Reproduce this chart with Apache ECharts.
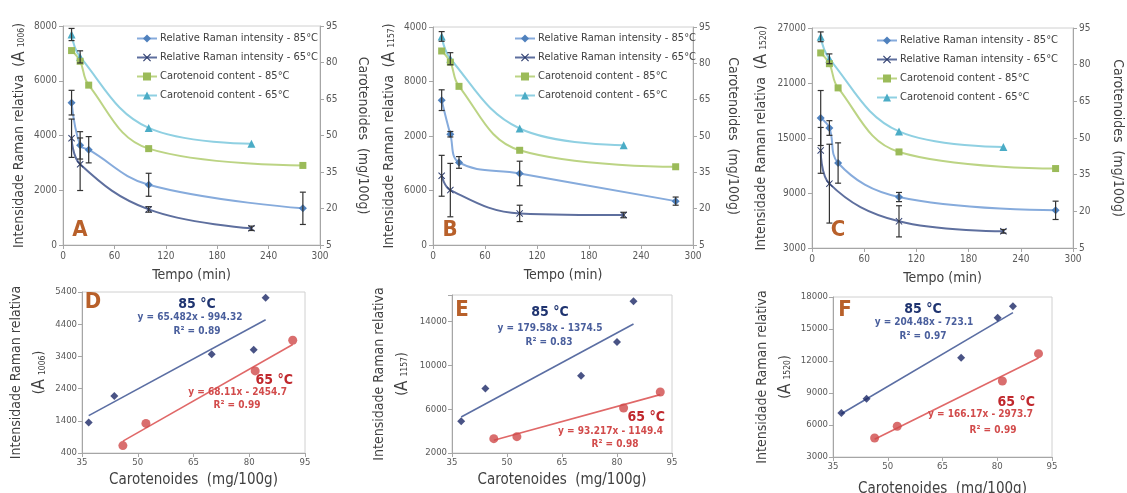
<!DOCTYPE html>
<html><head><meta charset="utf-8">
<script src="https://cdn.jsdelivr.net/npm/echarts@6/dist/echarts.min.js"></script>
<style>html,body{margin:0;padding:0;background:#fff}#c{width:1127px;height:493px}</style>
</head><body><div id="c"></div>
<script>
// ---------- DATA ----------
const tempo85 = [10, 20, 30, 100, 280];
const tempo65 = [10, 20, 100, 220];

// Panel A (A1006)
const ramanA85 = [5200, 3640, 3480, 2200, 1340];
const errA85   = [450, 500, 480, 420, 590];
const ramanA65 = [3900, 2950, 1300, 610];
const errA65   = [700, 960, 100, 80];
const carotA85 = [84.9, 80.5, 70.7, 44.6, 37.7];
const carotA65 = [91.5, 82.3, 53.1, 46.6];
const carotErrA65 = [2.5, 2.5, 0, 0];

// Panel B (A1157) – tick labels as printed, bottom to top
const ticksB = ['0', '6000', '2000', '8000', '4000'];
const ramanB85 = [10630, 8130, 6060, 5250, 3220];
const errB85   = [760, 200, 430, 900, 300];
const ramanB65 = [5080, 4030, 2320, 2200];
const errB65   = [1500, 1960, 600, 200];
const carotB85 = [85.1, 80.5, 70.5, 44.1, 37.3];
const carotB65 = [91.1, 81.9, 53.1, 46.2];
const carotErrB65 = [2, 2.5, 0, 0];

// Panel C (A1520)
const ramanC85 = [17180, 16090, 12270, 8560, 7110];
const errC85   = [3000, 800, 2200, 500, 1000];
const ramanC65 = [13650, 10020, 5910, 4820];
const errC65   = [2500, 4300, 1700, 200];
const carotC85 = [84.8, 80.4, 70.5, 44.3, 37.5];
const carotC65 = [91.4, 82.4, 52.7, 46.3];
const carotErrC65 = [2, 2, 0, 0];

// Panel D
const carot85D = [36.8, 43.7, 69.9, 81.2, 84.4];
const raman85D = [1350, 2170, 3470, 3610, 5220];
const carot65D = [46.0, 52.2, 81.6, 91.7];
const raman65D = [630, 1320, 2950, 3900];
const trend85D = [[36.8, 1560], [84.4, 4540]];
const trend65D = [[46.0, 770], [91.7, 3770]];
// Panel E
const carot85E = [37.5, 44.1, 70.2, 80.0, 84.5];
const raman85E = [4890, 7870, 9050, 12120, 15830];
const carot65E = [46.4, 52.7, 81.8, 91.8];
const raman65E = [3310, 3490, 6100, 7560];
const trend85E = [[37.5, 5280], [84.5, 13760]];
const trend65E = [[46.4, 3160], [91.8, 7320]];
// Panel F
const carot85F = [37.3, 44.2, 70.1, 80.1, 84.3];
const raman85F = [7130, 8470, 12310, 16060, 17130];
const carot65F = [46.4, 52.6, 81.4, 91.3];
const raman65F = [4780, 5880, 10130, 12690];
const trend85F = [[37.3, 7060], [84.3, 16530]];
const trend65F = [[46.4, 4660], [91.3, 12280]];

const legendNames = ['Relative Raman intensity - 85°C', 'Relative Raman intensity - 65°C',
  'Carotenoid content - 85°C', 'Carotenoid content - 65°C'];
const equations = {
  D: ['y = 65.482x - 994.32', 'R² = 0.89', 'y = 68.11x - 2454.7', 'R² = 0.99'],
  E: ['y = 179.58x - 1374.5', 'R² = 0.83', 'y = 93.217x - 1149.4', 'R² = 0.98'],
  F: ['y = 204.48x - 723.1', 'R² = 0.97', 'y = 166.17x - 2973.7', 'R² = 0.99']
};

// ---------- STYLE ----------
const FONT = "'Liberation Sans Narrow','DejaVu Sans Condensed','Open Sans',sans-serif";
const TXT = '#404040', TICK = '#595959', AXIS = '#a6a6a6';
const C85 = '#4f81bd', L85 = '#86abdc';
const C65 = '#2e3d6e', L65 = '#5e6f9e';
const CG = '#9bbb59', LG = '#bcd484';
const CC = '#4bacc6', LC = '#8fd0e2';
const LETTER = '#b8602a';
const XSYM = 'path://M0,1L1,0L5,4L9,0L10,1L6,5L10,9L9,10L5,6L1,10L0,9L4,5Z';

const zip = (a, b) => a.map((v, i) => [v, b[i]]);
const errData = (t, v, e) => t.map((x, i) => [x, v[i] - e[i], v[i] + e[i], e[i]]).filter(d => d[3] > 0);

function errRender(params, api) {
  const x = api.value(0), lo = api.value(1), hi = api.value(2);
  const a = api.coord([x, hi]), b = api.coord([x, lo]);
  const w = 3, style = { stroke: '#333', lineWidth: 1.2 };
  return { type: 'group', children: [
    { type: 'line', shape: { x1: a[0], y1: a[1], x2: b[0], y2: b[1] }, style },
    { type: 'line', shape: { x1: a[0] - w, y1: a[1], x2: a[0] + w, y2: a[1] }, style },
    { type: 'line', shape: { x1: b[0] - w, y1: b[1], x2: b[0] + w, y2: b[1] }, style }
  ]};
}

const grids = [
  { left: 63, top: 26, width: 257, height: 219 },
  { left: 433, top: 27, width: 260, height: 218 },
  { left: 812, top: 28, width: 261, height: 220 },
  { left: 82, top: 292, width: 223, height: 161 },
  { left: 452, top: 295, width: 220, height: 158 },
  { left: 833, top: 297, width: 219, height: 160 }
].map(g => Object.assign({ show: true, borderColor: '#d0d0d0', borderWidth: 1, backgroundColor: 'transparent',
  outerBoundsMode: 'none', containLabel: false }, g));

const plain = v => String(v);
function mk(o) {
  const base = {
    axisLine: { show: true, lineStyle: { color: AXIS } },
    axisTick: { show: true, length: 4, inside: false, lineStyle: { color: AXIS } },
    splitLine: { show: false },
    axisLabel: { color: TICK, fontSize: 10, fontFamily: FONT, margin: 6, formatter: plain },
    nameTextStyle: { color: TXT, fontFamily: FONT, fontSize: 14 },
    nameLocation: 'middle'
  };
  const r = Object.assign(base, o);
  if (o.axisLabel) r.axisLabel = Object.assign({ color: TICK, fontFamily: FONT, formatter: plain }, o.axisLabel);
  if (o.nameTextStyle) r.nameTextStyle = Object.assign({ color: TXT, fontFamily: FONT }, o.nameTextStyle);
  return r;
}

const xAxis = [], yAxis = [];
[0, 1, 2].forEach(i => xAxis.push(mk({ type: 'value', gridIndex: i, min: 0, max: 300, interval: 60,
  name: 'Tempo (min)', nameGap: 23, nameTextStyle: { fontSize: 14 } })));
[[3, 20], [4, 20], [5, 25]].forEach(([i, g]) => xAxis.push(mk({ type: 'value', gridIndex: i, min: 35, max: 95, interval: 15,
  name: 'Carotenoides  (mg/100g)', nameGap: g, nameTextStyle: { fontSize: 15 },
  axisLabel: { fontSize: 9.5, margin: 5 } })));

const subRich = { s: { fontSize: 8.5, fontFamily: FONT, color: TXT, padding: [5, 0, 0, 0] }, a: { fontSize: 17, fontFamily: FONT, color: TXT } };
const codes = ['1006', '1157', '1520'];
const leftCfg = [
  { min: 0, max: 8000, interval: 2000, gap: 35 },
  { min: 0, max: 16000, interval: 4000, gap: 35, fmt: v => ticksB[Math.round(v / 4000)] },
  { min: 3000, max: 27000, interval: 6000, gap: 42 }
];
const rightGaps = [36, 33, 38];
[0, 1, 2].forEach(i => {
  const c = leftCfg[i];
  yAxis.push(mk({ type: 'value', gridIndex: i, position: 'left', min: c.min, max: c.max, interval: c.interval,
    name: 'Intensidade Raman relativa  ({a|A} {s|' + codes[i] + '})', nameGap: c.gap,
    nameTextStyle: { fontSize: 14, rich: subRich },
    axisLabel: { fontSize: 10, margin: 6, formatter: c.fmt || plain } }));
  yAxis.push(mk({ type: 'value', gridIndex: i, position: 'right', min: 5, max: 95, interval: 15,
    name: 'Carotenoides  (mg/100g)', nameGap: rightGaps[i], nameRotate: -90,
    nameTextStyle: { fontSize: 14 } }));
});
const botCfg = [
  { g: 3, min: 400, max: 5400, interval: 1000, gap: 26 },
  { g: 4, min: 2000, max: 16400, interval: 4000, gap: 38, fmt: v => (v % 4000 === 2000 ? String(v) : '') },
  { g: 5, min: 3000, max: 18000, interval: 3000, gap: 33 }
];
botCfg.forEach((c, k) => {
  yAxis.push(mk({ type: 'value', gridIndex: c.g, min: c.min, max: c.max, interval: c.interval,
    name: 'Intensidade Raman relativa\n({a|A} {s|' + codes[k] + '})', nameGap: c.gap,
    nameTextStyle: { fontSize: 14, lineHeight: 23, rich: subRich },
    axisLabel: { fontSize: 9.5, margin: 5, formatter: c.fmt || plain } }));
});

const series = [];
const topData = [
  [ramanA85, errA85, ramanA65, errA65, carotA85, carotA65, carotErrA65],
  [ramanB85, errB85, ramanB65, errB65, carotB85, carotB65, carotErrB65],
  [ramanC85, errC85, ramanC65, errC65, carotC85, carotC65, carotErrC65]
];
topData.forEach((d, i) => {
  const [r85, e85, r65, e65, c85, c65, ce65] = d;
  const base = { type: 'line', smooth: 0.4, xAxisIndex: i, z: 3 };
  series.push(Object.assign({}, base, { name: legendNames[3], yAxisIndex: 2 * i + 1, data: zip(tempo65, c65),
    symbol: 'triangle', symbolSize: 8, itemStyle: { color: CC }, lineStyle: { color: LC, width: 2 } }));
  series.push(Object.assign({}, base, { name: legendNames[2], yAxisIndex: 2 * i + 1, data: zip(tempo85, c85),
    symbol: 'rect', symbolSize: 7, itemStyle: { color: CG }, lineStyle: { color: LG, width: 2 } }));
  series.push(Object.assign({}, base, { name: legendNames[0], yAxisIndex: 2 * i, data: zip(tempo85, r85),
    symbol: 'diamond', symbolSize: 8, itemStyle: { color: C85 }, lineStyle: { color: L85, width: 2 } }));
  series.push(Object.assign({}, base, { name: legendNames[1], yAxisIndex: 2 * i, data: zip(tempo65, r65),
    symbol: XSYM, symbolSize: 7, itemStyle: { color: C65 }, lineStyle: { color: L65, width: 2 } }));
  [[tempo85, r85, e85, 2 * i], [tempo65, r65, e65, 2 * i], [tempo65, c65, ce65, 2 * i + 1]].forEach(([t, v, e, y]) => {
    series.push({ type: 'custom', xAxisIndex: i, yAxisIndex: y, renderItem: errRender, z: 4,
      encode: { x: 0, y: [1, 2] }, data: errData(t, v, e), silent: true });
  });
});

const botData = [
  [carot85D, raman85D, carot65D, raman65D, trend85D, trend65D],
  [carot85E, raman85E, carot65E, raman65E, trend85E, trend65E],
  [carot85F, raman85F, carot65F, raman65F, trend85F, trend65F]
];
botData.forEach((d, k) => {
  const [x85, y85, x65, y65, t85, t65] = d;
  const xi = 3 + k, yi = 6 + k;
  series.push({ type: 'line', xAxisIndex: xi, yAxisIndex: yi, data: t85, symbol: 'none',
    lineStyle: { color: '#5b6ea3', width: 1.6 }, z: 2 });
  series.push({ type: 'line', xAxisIndex: xi, yAxisIndex: yi, data: t65, symbol: 'none',
    lineStyle: { color: '#e06868', width: 1.6 }, z: 2 });
  series.push({ type: 'scatter', xAxisIndex: xi, yAxisIndex: yi, data: zip(x85, y85), symbol: 'diamond',
    symbolSize: 8, itemStyle: { color: '#1c2866' }, z: 3 });
  series.push({ type: 'scatter', xAxisIndex: xi, yAxisIndex: yi, data: zip(x65, y65), symbol: 'circle',
    symbolSize: 9, itemStyle: { color: '#cf4a4a' }, z: 3 });
});

const legendPos = [[136, 33], [514, 33], [876, 35]];
const legend = legendPos.map(([l, t]) => ({
  orient: 'vertical', left: l, top: t, padding: 0, itemGap: 8, itemWidth: 20, itemHeight: 10,
  data: legendNames, selectedMode: false,
  textStyle: { color: TXT, fontSize: 11, fontFamily: FONT, padding: [0, 0, 0, -2] }
}));

const graphic = [];
function txt(text, x, y, size, color, align, bold) {
  graphic.push({ type: 'text', x, y, silent: true, z: 10, style: { text, fill: color, fontSize: size,
    fontFamily: FONT, fontWeight: bold ? 'bold' : 'normal', textAlign: align, textVerticalAlign: 'middle' } });
}
[['A', 80, 230], ['B', 450, 230], ['C', 838, 230], ['D', 93, 302], ['E', 462, 310], ['F', 845, 310]]
  .forEach(([s, x, y]) => txt(s, x, y, 22, LETTER, 'center', true));
const ann = {
  D: { h85: [197, 304], e85: [190, 317], r85: [197, 331], h65: [293, 380], e65: [287, 392], r65: [237, 405] },
  E: { h85: [550, 312], e85: [550, 328], r85: [549, 342], h65: [665, 417], e65: [663, 431], r65: [615, 444] },
  F: { h85: [923, 309], e85: [924, 322], r85: [923, 336], h65: [1035, 402], e65: [1033, 414], r65: [993, 430] }
};
Object.keys(ann).forEach(k => {
  const a = ann[k], eq = equations[k];
  txt('85 °C', a.h85[0], a.h85[1], 14, '#1f3470', 'center', true);
  txt(eq[0], a.e85[0], a.e85[1], 10, '#4a5f9d', 'center', true);
  txt(eq[1], a.r85[0], a.r85[1], 10, '#4a5f9d', 'center', true);
  txt('65 °C', a.h65[0], a.h65[1], 14, '#c0282d', 'right', true);
  txt(eq[2], a.e65[0], a.e65[1], 10, '#d24b4b', 'right', true);
  txt(eq[3], a.r65[0], a.r65[1], 10, '#d24b4b', 'center', true);
});

const chart = echarts.init(document.getElementById('c'), null, { renderer: 'canvas' });
chart.setOption({ animation: false, backgroundColor: '#fff', grid: grids, xAxis, yAxis, series, legend, graphic });
</script></body></html>
